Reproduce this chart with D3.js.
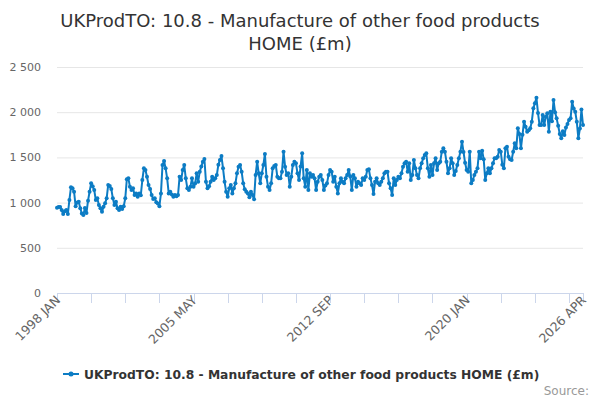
<!DOCTYPE html>
<html>
<head>
<meta charset="utf-8">
<script src="https://cdn.jsdelivr.net/npm/d3@7"></script>
<style>
  body { margin: 0; background: #fff; }
  svg { font-family: "DejaVu Sans", Verdana, sans-serif; }
</style>
</head>
<body>
<svg id="chart" width="600" height="400"></svg>
<script>
var title = ['UKProdTO: 10.8 - Manufacture of other food products', 'HOME (£m)'];
var seriesName = 'UKProdTO: 10.8 - Manufacture of other food products HOME (£m)';
var monthNames = ['JAN','FEB','MAR','APR','MAY','JUN','JUL','AUG','SEP','OCT','NOV','DEC'];
var startYear = 1998;

// monthly values, one row per year, 1998 JAN .. 2026 APR
var values = [
  944, 952, 950, 918, 874, 905, 918, 874, 1029, 1169, 1160, 1120,
  960, 1000, 1010, 937, 880, 863, 940, 885, 1021, 1120, 1213, 1180,
  1139, 1029, 1047, 973, 937, 899, 955, 992, 1047, 1195, 1185, 1150,
  1047, 973, 1010, 937, 918, 955, 930, 960, 1047, 1258, 1268, 1176,
  1139, 1158, 1084, 1102, 1065, 1102, 1080, 1250, 1379, 1360, 1286, 1195,
  1150, 1084, 1040, 1047, 1003, 990, 960, 1102, 1416, 1460, 1379, 1268,
  1102, 1121, 1090, 1065, 1084, 1070, 1084, 1286, 1250, 1360, 1416, 1268,
  1158, 1140, 1176, 1268, 1176, 1210, 1324, 1231, 1342, 1400, 1453, 1482,
  1231, 1158, 1180, 1231, 1286, 1250, 1270, 1305, 1420, 1471, 1515, 1379,
  1231, 1121, 1065, 1158, 1195, 1100, 1158, 1213, 1324, 1397, 1416, 1342,
  1213, 1147, 1121, 1102, 1060, 1121, 1084, 1036, 1305, 1453, 1324, 1213,
  1324, 1416, 1538, 1286, 1176, 1139, 1213, 1379, 1405, 1416, 1286, 1268,
  1268, 1342, 1563, 1397, 1305, 1324, 1176, 1286, 1416, 1453, 1434, 1324,
  1250, 1400, 1545, 1268, 1176, 1360, 1139, 1324, 1286, 1305, 1268, 1139,
  1231, 1286, 1305, 1250, 1139, 1190, 1213, 1305, 1360, 1342, 1231, 1286,
  1176, 1102, 1213, 1268, 1231, 1213, 1268, 1305, 1360, 1290, 1139, 1305,
  1268, 1176, 1231, 1213, 1195, 1268, 1250, 1286, 1360, 1368, 1268, 1195,
  1095, 1231, 1268, 1213, 1195, 1231, 1268, 1324, 1342, 1342, 1213, 1158,
  1084, 1268, 1195, 1250, 1286, 1268, 1324, 1397, 1434, 1453, 1342, 1434,
  1250, 1305, 1471, 1380, 1305, 1268, 1379, 1434, 1490, 1527, 1545, 1379,
  1286, 1416, 1305, 1434, 1490, 1360, 1434, 1453, 1563, 1600, 1563, 1453,
  1324, 1379, 1490, 1434, 1305, 1350, 1416, 1490, 1563, 1674, 1560, 1440,
  1360, 1342, 1563, 1213, 1250, 1305, 1342, 1379, 1563, 1490, 1574, 1480,
  1250, 1324, 1379, 1324, 1379, 1434, 1490, 1490, 1508, 1582, 1563, 1420,
  1379, 1600, 1619, 1508, 1480, 1471, 1563, 1656, 1600, 1822, 1760, 1600,
  1750, 1895, 1840, 1784, 1800, 1822, 1895, 2043, 2098, 2160, 1990, 1858,
  1858, 1969, 1858, 1950, 1988, 1784, 2005, 1900, 2135, 2000, 1932, 1850,
  1760, 1711, 1790, 1748, 1830, 1870, 1914, 1932, 2116, 2040, 2005, 1895,
  1711, 1820, 2030, 1858
];

var yTicks = [0, 500, 1000, 1500, 2000, 2500];
var xTickStep = 22;      // a tick every 22 months
var xLabelIdx = [0, 88, 176, 264, 339];

var categories = values.map(function(v, i) {
  return (startYear + Math.floor(i / 12)) + ' ' + monthNames[i % 12];
});

var svg = d3.select('#chart');
var lineColor = '#0c7cc4';

var x = d3.scaleLinear().domain([0, values.length - 1]).range([57, 583]);
var y = d3.scaleLinear().domain([0, 2500]).range([293, 67]);

var fmt = d3.formatLocale({decimal: '.', thousands: ' ', grouping: [3], currency: ['', '']}).format(',');

// title
svg.append('text')
  .attr('x', 300).attr('y', 27)
  .attr('text-anchor', 'middle')
  .style('font-size', '18px').style('fill', '#333')
  .selectAll('tspan')
  .data(title)
  .enter().append('tspan')
  .attr('x', 300)
  .attr('dy', (d, i) => i === 0 ? 0 : 23)
  .text(d => d);

// grid + y labels
var yAxis = svg.append('g');
yAxis.selectAll('line.grid')
  .data(yTicks.filter(d => d > 0))
  .enter().append('line')
  .attr('class', 'grid')
  .attr('x1', 57).attr('x2', 583)
  .attr('y1', d => y(d) + 0.5).attr('y2', d => y(d) + 0.5)
  .attr('stroke', '#e6e6e6');
yAxis.selectAll('text')
  .data(yTicks)
  .enter().append('text')
  .attr('x', 41)
  .attr('y', d => y(d) + 4)
  .attr('text-anchor', 'end')
  .style('font-size', '11px').style('fill', '#666')
  .text(d => fmt(d));

// x axis
var xTicks = d3.range(0, values.length, xTickStep);
if (xTicks[xTicks.length - 1] !== values.length - 1) xTicks.push(values.length - 1);
var xAxis = svg.append('g');
xAxis.append('line')
  .attr('x1', 57).attr('x2', 583)
  .attr('y1', 293.5).attr('y2', 293.5)
  .attr('stroke', '#ccd6eb');
xAxis.selectAll('line.tick')
  .data(xTicks)
  .enter().append('line')
  .attr('class', 'tick')
  .attr('x1', d => Math.round(x(d)) + 0.5).attr('x2', d => Math.round(x(d)) + 0.5)
  .attr('y1', 293).attr('y2', 303)
  .attr('stroke', '#ccd6eb');
xAxis.selectAll('text')
  .data(xLabelIdx)
  .enter().append('text')
  .attr('transform', d => 'translate(' + (x(d) + 4) + ',301) rotate(-45)')
  .attr('text-anchor', 'end')
  .style('font-size', '12.5px').style('fill', '#666')
  .text(d => categories[d]);

// series
var line = d3.line()
  .x((d, i) => x(i))
  .y(d => y(d));
svg.append('path')
  .datum(values)
  .attr('d', line)
  .attr('fill', 'none')
  .attr('stroke', lineColor)
  .attr('stroke-width', 2)
  .attr('stroke-linejoin', 'round');
svg.append('g').selectAll('circle')
  .data(values)
  .enter().append('circle')
  .attr('cx', (d, i) => x(i))
  .attr('cy', d => y(d))
  .attr('r', 2)
  .attr('fill', lineColor);

// legend
var legend = svg.append('g').attr('transform', 'translate(63,374)');
legend.append('line')
  .attr('x1', 0).attr('x2', 16)
  .attr('stroke', lineColor).attr('stroke-width', 2);
legend.append('circle')
  .attr('cx', 8).attr('r', 2.5)
  .attr('fill', lineColor);
legend.append('text')
  .attr('x', 21).attr('y', 4.5)
  .style('font-size', '12.3px').style('font-weight', 'bold').style('fill', '#333')
  .text(seriesName);

// credits
svg.append('text')
  .attr('x', 589).attr('y', 395)
  .attr('text-anchor', 'end')
  .style('font-size', '12px').style('fill', '#999')
  .text('Source:');
</script>
</body>
</html>
